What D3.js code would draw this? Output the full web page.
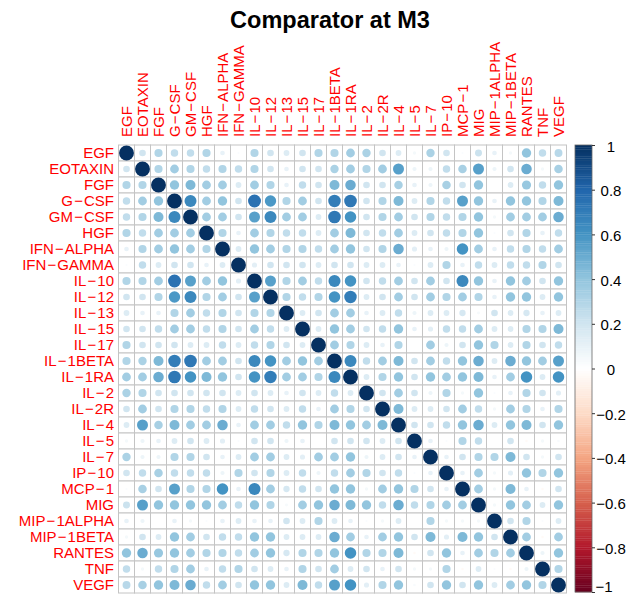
<!DOCTYPE html>
<html>
<head>
<meta charset="utf-8">
<script src="https://cdn.jsdelivr.net/npm/d3@7"></script>
<style>
  html, body { margin: 0; padding: 0; background: #fff; }
  svg { display: block; font-family: "Liberation Sans", Arial, Helvetica, sans-serif; }
</style>
</head>
<body>
<svg id="chart" width="632" height="598"></svg>
<script>
// Cytokine correlation matrix (circle method)
const chartTitle = "Comparator at M3";

const variables = ["EGF", "EOTAXIN", "FGF", "G−CSF", "GM−CSF", "HGF", "IFN−ALPHA", "IFN−GAMMA",
  "IL−10", "IL−12", "IL−13", "IL−15", "IL−17", "IL−1BETA", "IL−1RA", "IL−2", "IL−2R", "IL−4",
  "IL−5", "IL−7", "IP−10", "MCP−1", "MIG", "MIP−1ALPHA", "MIP−1BETA", "RANTES", "TNF", "VEGF"];

// Upper-triangle correlations: each row lists r with the variables that follow it
const rEGF       = [0.2, 0.3, 0.25, 0.25, 0.3, 0.1, 0.02, 0.3, 0.2, 0.15, 0.2, 0.3, 0.3, 0.35, 0.32, 0.2, 0.15, 0.05, 0.32, 0.2, 0.02, 0.22, 0.1, 0.05, 0.4, 0.25, 0.28];
const rEOTAXIN   = [0.3, 0.35, 0.3, 0.25, 0.3, 0.25, 0.3, 0.2, 0.1, 0.2, 0.2, 0.32, 0.35, 0.3, 0.35, 0.55, 0.08, 0.08, 0.25, 0.33, 0.55, 0.08, 0.2, 0.5, 0.05, 0.33];
const rFGF       = [0.4, 0.45, 0.35, 0.35, 0.15, 0.35, 0.3, 0.1, 0.25, 0.2, 0.45, 0.5, 0.2, 0.2, 0.33, 0.1, 0.08, 0.33, 0.2, 0.4, 0.0, 0.15, 0.38, 0.25, 0.4];
const rGCSF      = [0.65, 0.35, 0.4, 0.2, 0.75, 0.58, 0.3, 0.35, 0.2, 0.7, 0.72, 0.2, 0.3, 0.45, 0.15, 0.3, 0.25, 0.55, 0.4, 0.1, 0.4, 0.4, 0.3, 0.45];
const rGMCSF     = [0.35, 0.35, 0.2, 0.55, 0.65, 0.35, 0.35, 0.15, 0.72, 0.6, 0.2, 0.3, 0.35, 0.2, 0.3, 0.25, 0.3, 0.4, 0.05, 0.35, 0.35, 0.35, 0.5];
const rHGF       = [0.3, 0.1, 0.35, 0.3, 0.25, 0.25, 0.15, 0.35, 0.45, 0.2, 0.25, 0.35, 0.15, 0.2, 0.25, 0.3, 0.4, 0.02, 0.2, 0.3, 0.1, 0.25];
const rIFNALPHA  = [0.15, 0.4, 0.35, 0.3, 0.3, 0.25, 0.35, 0.4, 0.2, 0.3, 0.5, 0.12, 0.1, 0.08, 0.6, 0.35, 0.1, 0.25, 0.3, 0.25, 0.35];
const rIFNGAMMA  = [0.12, 0.2, 0.2, 0.2, 0.15, 0.2, 0.2, 0.15, 0.15, 0.1, 0.02, 0.15, 0.3, 0.1, 0.25, 0.15, 0.25, 0.25, 0.3, 0.2];
const rIL10      = [0.55, 0.3, 0.35, 0.25, 0.65, 0.6, 0.2, 0.25, 0.35, 0.2, 0.35, 0.2, 0.65, 0.4, 0.1, 0.4, 0.35, 0.2, 0.4];
const rIL12      = [0.3, 0.25, 0.3, 0.6, 0.7, 0.15, 0.2, 0.35, 0.2, 0.35, 0.3, 0.35, 0.3, 0.1, 0.4, 0.4, 0.15, 0.4];
const rIL13      = [0.15, 0.2, 0.35, 0.35, 0.1, 0.15, 0.25, 0.08, 0.15, 0.15, 0.18, 0.04, 0.2, 0.15, 0.18, 0.1, 0.15];
const rIL15      = [0.15, 0.4, 0.35, 0.2, 0.25, 0.4, 0.1, 0.12, 0.25, 0.25, 0.35, 0.15, 0.15, 0.3, 0.3, 0.45];
const rIL17      = [0.35, 0.3, 0.15, 0.1, 0.3, 0.0, 0.35, 0.08, 0.2, 0.4, 0.3, 0.15, 0.3, 0.2, 0.25];
const rIL1BETA   = [0.65, 0.25, 0.35, 0.45, 0.2, 0.35, 0.25, 0.4, 0.5, 0.15, 0.5, 0.4, 0.35, 0.55];
const rIL1RA     = [0.15, 0.3, 0.4, 0.2, 0.4, 0.35, 0.4, 0.45, 0.1, 0.35, 0.6, 0.15, 0.6];
const rIL2       = [0.2, 0.35, 0.2, 0.08, 0.3, 0.05, 0.4, 0.02, 0.1, 0.3, 0.2, 0.12];
const rIL2R      = [0.45, 0.15, 0.15, 0.2, 0.35, 0.25, 0.05, 0.35, 0.3, 0.1, 0.3];
const rIL4       = [0.2, 0.2, 0.25, 0.4, 0.5, 0.15, 0.4, 0.45, 0.2, 0.4];
const rIL5       = [0.1, 0.02, 0.3, 0.25, 0.0, 0.2, -0.03, 0.05, 0.03];
const rIL7       = [0.1, 0.2, 0.3, 0.3, 0.45, 0.2, 0.05, 0.2];
const rIP10      = [0.1, 0.35, 0.05, 0.12, 0.4, 0.3, 0.4];
const rMCP1      = [0.35, 0.05, 0.45, 0.1, -0.03, 0.2];
const rMIG       = [0.05, 0.4, 0.35, 0.15, 0.4];
const rMIP1ALPHA = [0.2, 0.3, 0.02, 0.15];
const rMIP1BETA  = [0.35, -0.03, 0.35];
const rRANTES    = [0.08, 0.4];
const rTNF       = [0.3];
const rVEGF      = [];

const upperRows = [rEGF, rEOTAXIN, rFGF, rGCSF, rGMCSF, rHGF, rIFNALPHA, rIFNGAMMA, rIL10, rIL12,
  rIL13, rIL15, rIL17, rIL1BETA, rIL1RA, rIL2, rIL2R, rIL4, rIL5, rIL7, rIP10, rMCP1, rMIG,
  rMIP1ALPHA, rMIP1BETA, rRANTES, rTNF, rVEGF];

// Colour legend ticks and the RdBu ramp (from -1 to 1)
const legendTicks = [-1, -0.8, -0.6, -0.4, -0.2, 0, 0.2, 0.4, 0.6, 0.8, 1];
const rampColors = ["#67001F", "#B2182B", "#D6604D", "#F4A582", "#FDDBC7", "#FFFFFF",
  "#D1E5F0", "#92C5DE", "#4393C3", "#2166AC", "#053061"];

// Build the full symmetric matrix
const n = variables.length;
const cells = [];
for (let i = 0; i < n; i++) {
  for (let j = 0; j < n; j++) {
    let r;
    if (i === j) r = 1;
    else if (j > i) r = upperRows[i][j - i - 1];
    else r = upperRows[j][i - j - 1];
    cells.push({ row: variables[i], col: variables[j], r });
  }
}

const svg = d3.select("#chart");

const x = d3.scaleBand().domain(variables).range([118.5, 566.5]);
const y = d3.scaleBand().domain(variables).range([145, 593]);
const bw = x.bandwidth();

const color = d3.scaleLinear()
  .domain(d3.range(rampColors.length).map(i => -1 + 2 * i / (rampColors.length - 1)))
  .range(rampColors)
  .interpolate(d3.interpolateRgb);

const radius = r => 0.465 * bw * Math.sqrt(Math.abs(r));

// Labels: the minus sign gets a little breathing room on both sides
function writeLabel(sel) {
  sel.each(function (d) {
    const t = d3.select(this);
    const parts = d.split("−");
    parts.forEach((p, k) => {
      if (k > 0) t.append("tspan").attr("dx", 1.1).text("−");
      t.append("tspan").attr("dx", k > 0 ? 1.1 : 0).text(p);
    });
  });
}

// Title
svg.append("text")
  .attr("x", 330)
  .attr("y", 27.5)
  .attr("text-anchor", "middle")
  .attr("font-size", 23.5)
  .attr("font-weight", "bold")
  .attr("fill", "#000")
  .text(chartTitle);

// Cell backgrounds and grid
svg.append("g").selectAll("rect")
  .data(cells)
  .join("rect")
  .attr("x", d => x(d.col))
  .attr("y", d => y(d.row))
  .attr("width", bw)
  .attr("height", bw)
  .attr("fill", "#fff")
  .attr("stroke", "#C4C4C4")
  .attr("stroke-width", 1);

// Correlation circles
svg.append("g").selectAll("circle")
  .data(cells)
  .join("circle")
  .attr("cx", d => x(d.col) + bw / 2)
  .attr("cy", d => y(d.row) + bw / 2)
  .attr("r", d => radius(d.r))
  .attr("fill", d => color(d.r));

// Row labels
svg.append("g").selectAll("text")
  .data(variables)
  .join("text")
  .attr("x", 114)
  .attr("y", d => y(d) + bw / 2)
  .attr("dy", "0.36em")
  .attr("text-anchor", "end")
  .attr("font-size", 15)
  .attr("fill", "#FF0000")
  .call(writeLabel);

// Column labels (vertical)
svg.append("g").selectAll("text")
  .data(variables)
  .join("text")
  .attr("transform", d => `translate(${x(d) + bw / 2},137) rotate(-90)`)
  .attr("dy", "0.36em")
  .attr("text-anchor", "start")
  .attr("font-size", 15)
  .attr("fill", "#FF0000")
  .call(writeLabel);

// Colour legend
const legX = 575, legW = 17;
const ly = d3.scaleLinear().domain([-1, 1]).range([592, 145]);
const steps = d3.range(200).map(i => -1 + (i + 0.5) * 2 / 200);
const leg = svg.append("g");
leg.selectAll("rect")
  .data(steps)
  .join("rect")
  .attr("x", legX)
  .attr("y", d => ly(d + 1 / 200))
  .attr("width", legW)
  .attr("height", ly(-1) - ly(-1 + 2 / 200) + 0.3)
  .attr("fill", d => color(d));
leg.append("rect")
  .attr("x", legX)
  .attr("y", ly(1))
  .attr("width", legW)
  .attr("height", ly(-1) - ly(1))
  .attr("fill", "none")
  .attr("stroke", "#666")
  .attr("stroke-width", 0.8);

const axis = d3.axisRight(ly)
  .tickValues(legendTicks)
  .tickFormat(d3.format("~g"))
  .tickSize(3)
  .tickSizeOuter(0);
const axG = leg.append("g")
  .attr("transform", `translate(${legX + legW},0)`)
  .call(axis);
axG.select(".domain").remove();
axG.selectAll(".tick line").attr("stroke", "#333");
axG.selectAll(".tick text")
  .attr("x", d => d === -1 ? 12 : 19)
  .attr("dy", d => d === -1 ? "-0.05em" : "0.4em")
  .attr("text-anchor", "middle")
  .attr("font-size", 15)
  .attr("font-family", "Liberation Sans, Arial, sans-serif")
  .attr("fill", "#000");
</script>
</body>
</html>
